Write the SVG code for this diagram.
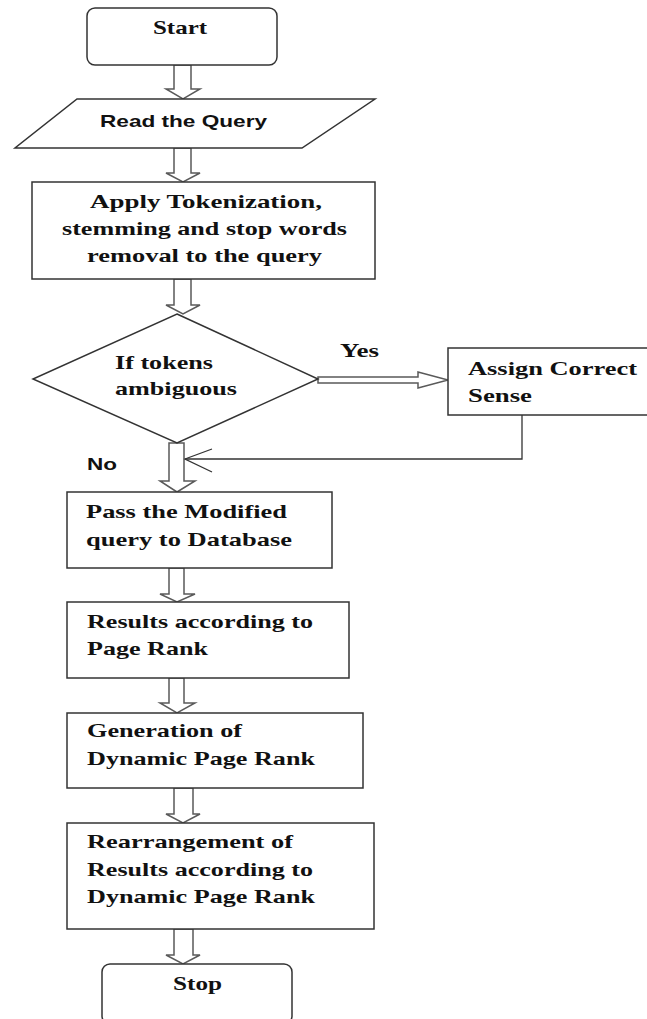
<svg xmlns="http://www.w3.org/2000/svg" width="647" height="1019" viewBox="0 0 647 1019">
  <style>
    .box{fill:#fff;stroke:#333;stroke-width:1.5}
    .arr{fill:#fff;stroke:#5a5a5a;stroke-width:1.5;stroke-linejoin:miter}
    .line{fill:none;stroke:#333;stroke-width:1.3}
    .t{font-family:"Liberation Serif","Times New Roman",serif;font-weight:bold;font-size:19px;fill:#111}
    .s{font-family:"Liberation Sans",Arial,sans-serif;font-weight:bold;font-size:17px;fill:#111}
  </style>
  <rect width="647" height="1019" fill="#fff"/>

  <g id="connectors">
    <polygon class="arr" points="174,65 191,65 191,89 200,89 183,99 166,89 174,89"/>
    <polygon class="arr" points="174,148 191,148 191,173 200,173 183,182 166,173 174,173"/>
    <polygon class="arr" points="174,279 191,279 191,305 200,305 183,314 166,305 174,305"/>
    <polygon class="arr" points="169,443 184,443 184,481 195,481 177,492 160,481 169,481"/>
    <polygon class="arr" points="169,568 184,568 184,594 195,594 177,602 160,594 169,594"/>
    <polygon class="arr" points="169,678 184,678 184,703 195,703 177,713 160,703 169,703"/>
    <polygon class="arr" points="174,788 193,788 193,814 200,814 183,823 166,814 174,814"/>
    <polygon class="arr" points="174,929 193,929 193,955 200,955 183,964 166,955 174,955"/>
    <polygon class="arr" points="318,377 418,377 418,372 448,380 418,388 418,383 318,383"/>
    <polyline class="line" points="522,415 522,459 185,459"/>
    <polyline class="line" points="212,449 185,459 212,472"/>
    <text class="t" x="340" y="357" textLength="39" lengthAdjust="spacingAndGlyphs">Yes</text>
    <text class="s" x="87" y="470" textLength="30" lengthAdjust="spacingAndGlyphs">No</text>
  </g>

  <g id="start">
    <rect class="box" x="87" y="8" width="190" height="57" rx="8"/>
    <text class="t" x="153" y="34" textLength="54" lengthAdjust="spacingAndGlyphs">Start</text>
  </g>

  <g id="read">
    <polygon class="box" points="77,99 375,99 302,148 15,148"/>
    <text class="s" x="100" y="127" font-size="18" textLength="167" lengthAdjust="spacingAndGlyphs">Read the Query</text>
  </g>

  <g id="apply">
    <rect class="box" x="32" y="182" width="343" height="97"/>
    <text class="t" x="90" y="208" textLength="232" lengthAdjust="spacingAndGlyphs">Apply Tokenization,</text>
    <text class="t" x="62" y="235" textLength="285" lengthAdjust="spacingAndGlyphs">stemming and stop words</text>
    <text class="t" x="87" y="262" textLength="235" lengthAdjust="spacingAndGlyphs">removal to the query</text>
  </g>

  <g id="decision">
    <polygon class="box" points="177,314 318,379 177,443 33,379"/>
    <text class="t" x="115" y="369" textLength="98" lengthAdjust="spacingAndGlyphs">If tokens</text>
    <text class="t" x="115" y="395" textLength="122" lengthAdjust="spacingAndGlyphs">ambiguous</text>
  </g>

  <g id="assign">
    <rect class="box" x="448" y="348" width="210" height="67"/>
    <text class="t" x="468" y="375" textLength="169" lengthAdjust="spacingAndGlyphs">Assign Correct</text>
    <text class="t" x="468" y="402" textLength="64" lengthAdjust="spacingAndGlyphs">Sense</text>
  </g>

  <g id="pass">
    <rect class="box" x="67" y="492" width="265" height="76"/>
    <text class="t" x="86" y="518" textLength="201" lengthAdjust="spacingAndGlyphs">Pass the Modified</text>
    <text class="t" x="86" y="546" textLength="206" lengthAdjust="spacingAndGlyphs">query to Database</text>
  </g>

  <g id="results">
    <rect class="box" x="67" y="602" width="282" height="76"/>
    <text class="t" x="87" y="628" textLength="226" lengthAdjust="spacingAndGlyphs">Results according to</text>
    <text class="t" x="87" y="655" textLength="121" lengthAdjust="spacingAndGlyphs">Page Rank</text>
  </g>

  <g id="generation">
    <rect class="box" x="67" y="713" width="296" height="75"/>
    <text class="t" x="87" y="737" textLength="155" lengthAdjust="spacingAndGlyphs">Generation of</text>
    <text class="t" x="87" y="765" textLength="228" lengthAdjust="spacingAndGlyphs">Dynamic Page Rank</text>
  </g>

  <g id="rearrange">
    <rect class="box" x="67" y="823" width="307" height="106"/>
    <text class="t" x="87" y="848" textLength="206" lengthAdjust="spacingAndGlyphs">Rearrangement of</text>
    <text class="t" x="87" y="876" textLength="226" lengthAdjust="spacingAndGlyphs">Results according to</text>
    <text class="t" x="87" y="903" textLength="228" lengthAdjust="spacingAndGlyphs">Dynamic Page Rank</text>
  </g>

  <g id="stop">
    <rect class="box" x="102" y="964" width="190" height="60" rx="8"/>
    <text class="t" x="173" y="990" textLength="49" lengthAdjust="spacingAndGlyphs">Stop</text>
  </g>
</svg>
